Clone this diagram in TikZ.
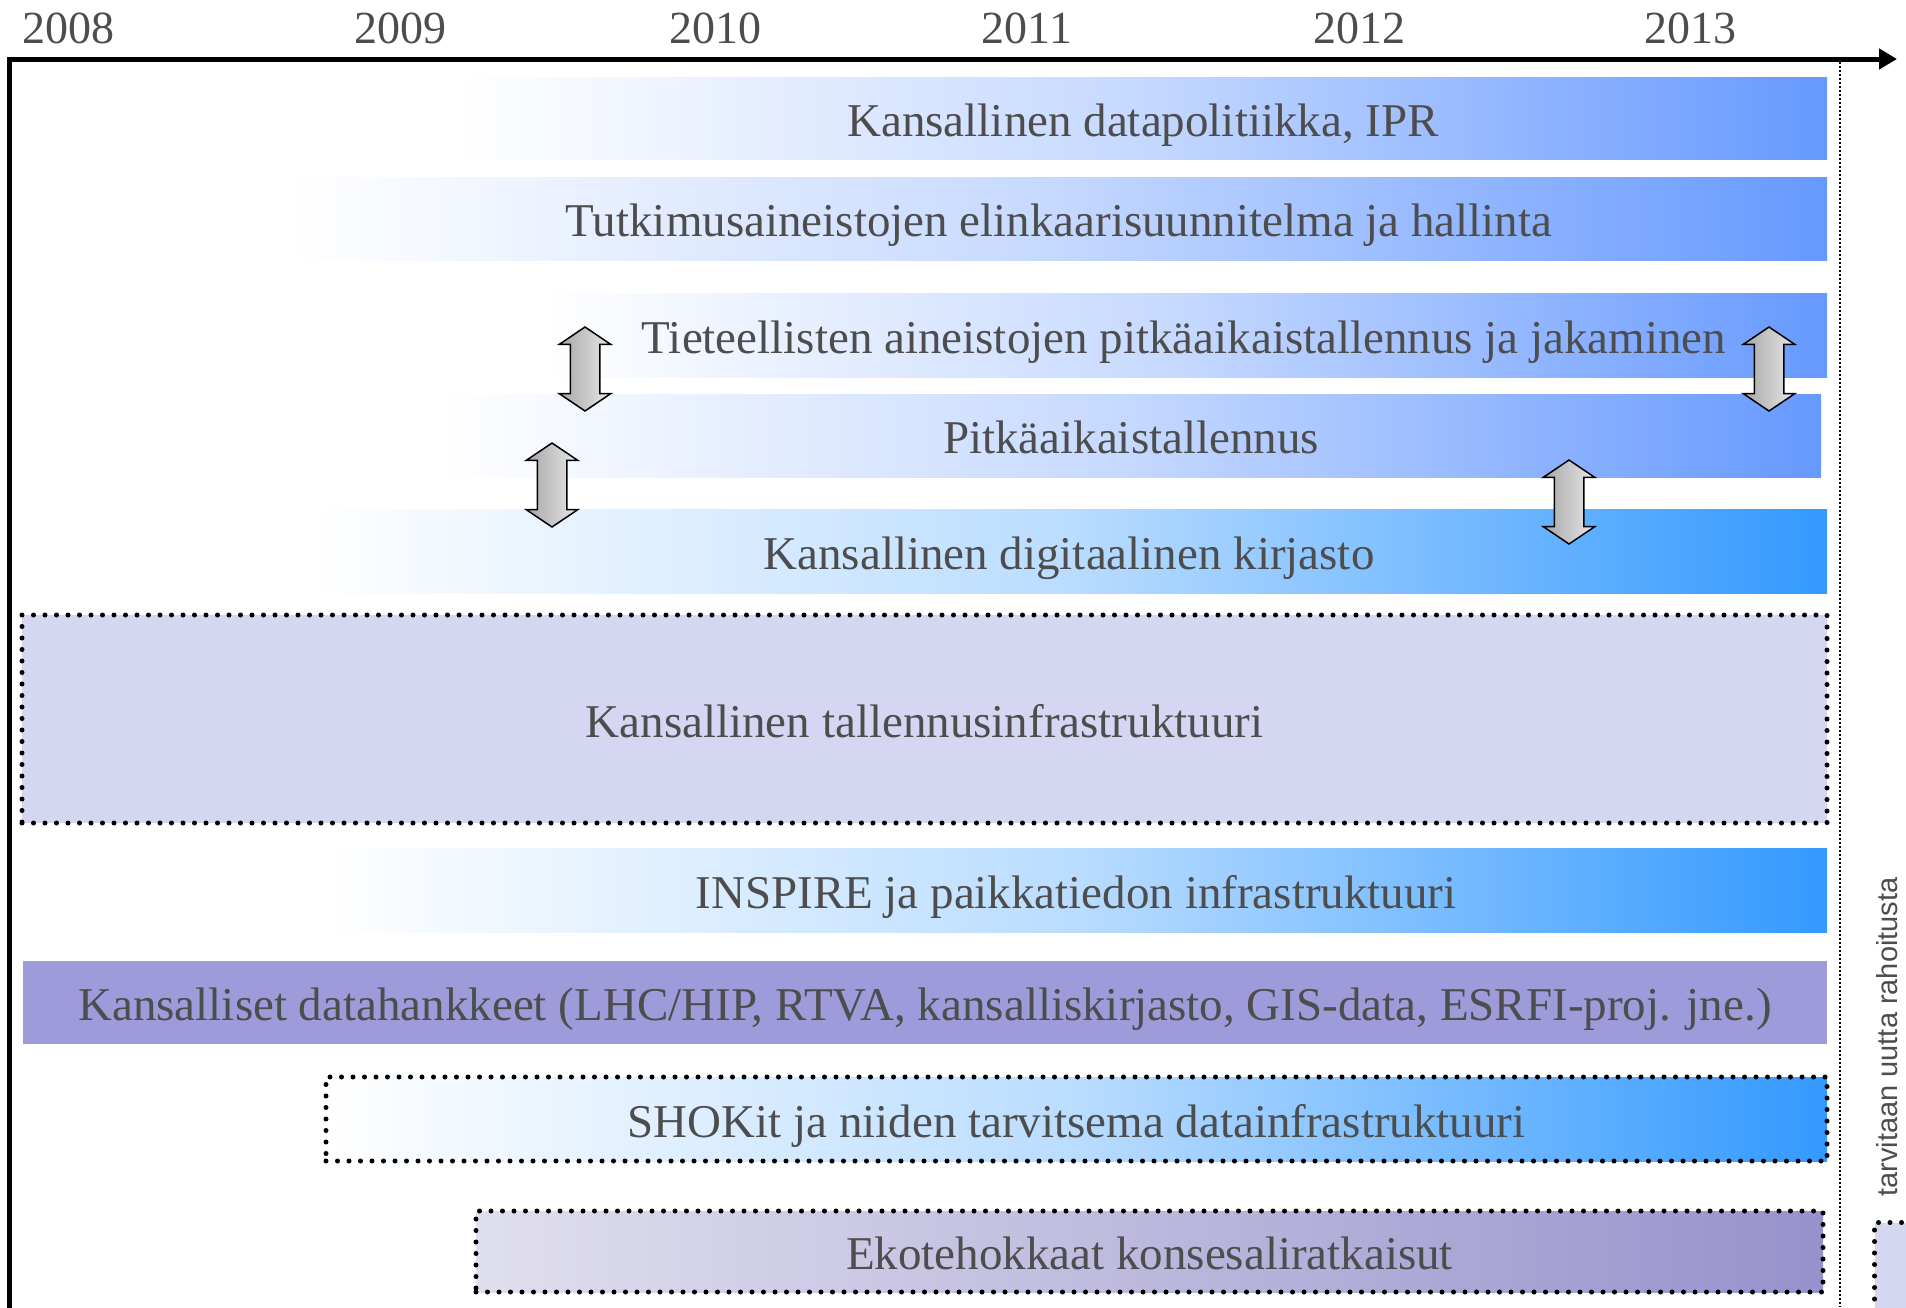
\documentclass[tikz,border=0pt]{standalone}
\usepackage{fontspec}
\setmainfont{Liberation Serif}
\newfontfamily\notefont{Liberation Sans}
\usetikzlibrary{%
  arrows.meta,%
  shapes.arrows,% wg. double arrow
  positioning%
}

\definecolor{labelgray}{HTML}{4D4D4D}
\definecolor{barblue}{HTML}{6699FF}
\definecolor{barazure}{HTML}{3399FF}
\definecolor{storelilac}{HTML}{D5D6F2}
\definecolor{projlilac}{HTML}{9E9BDB}
\definecolor{ecopale}{HTML}{E0DFEE}
\definecolor{ecolilac}{HTML}{9792CC}
\definecolor{arrowdark}{HTML}{A6A6A6}
\definecolor{arrowlight}{HTML}{E8E8E8}

\tikzset{
  planbar/.style={rectangle, inner sep=0pt, text=labelgray,
    text height=45pt, text depth=9pt},
  fadeblue/.style={planbar, left color=white, right color=barblue,
    middle color=barblue!38},
  fadeazure/.style={planbar, left color=white, right color=barazure,
    middle color=barazure!34},
  newfund/.style={draw=black, line width=5pt, line cap=round,
    dash pattern=on 0pt off 11.5pt},
  updown/.style={double arrow, shape border rotate=90, draw=black,
    line width=1.5pt, left color=arrowdark, right color=arrowlight,
    double arrow head extend=11pt, double arrow tip angle=112,
    minimum height=84pt, inner xsep=14pt, inner ysep=0pt}
}

\begin{document}
\begin{tikzpicture}[
  x=1pt, y=-1pt, font=\fontsize{47}{56}\selectfont
]
\useasboundingbox (0,0) rectangle (1906,1307);

\draw [line width=5pt, -{Triangle[length=18pt,width=20pt]}]
  (9,1310) -- (9,59) -- (1897,59);
\foreach \yr/\x in {2008/69,2009/400,2010/715,2011/1027,2012/1359,2013/1690} {
  \node[text=labelgray, font=\fontsize{46}{55}\selectfont] (yr\yr) at (\x,28) {\yr};
}
\draw [line width=2pt, dash pattern=on 2pt off 2pt] (1840,62) -- (1840,1307);

\node[fadeblue, minimum width=1368pt, minimum height=82pt] (datapol) at (1143,118)
  {Kansallinen datapolitiikka, IPR};
\node[fadeblue, minimum width=1536pt, minimum height=83pt] (lifecycle) at (1059,218.5)
  {Tutkimusaineistojen elinkaarisuunnitelma ja hallinta};
\node[fadeblue, minimum width=1286pt, minimum height=84pt] (sharing) at (1184,335)
  {Tieteellisten aineistojen pitkäaikaistallennus ja jakaminen};
\node[fadeblue, minimum width=1380pt, minimum height=83pt] (longterm) at (1131,435.5)
  {Pitkäaikaistallennus};
\node[fadeazure, minimum width=1516pt, minimum height=84pt] (library) at (1069,551)
  {Kansallinen digitaalinen kirjasto};
\node[planbar, newfund, fill=storelilac, minimum width=1805pt, minimum height=208pt]
  (storage) at (924.5,719) {Kansallinen tallennusinfrastruktuuri};
\node[fadeazure, minimum width=1502pt, minimum height=84pt] (inspire) at (1076,890)
  {INSPIRE ja paikkatiedon infrastruktuuri};
\node[planbar, fill=projlilac, minimum width=1804pt, minimum height=83pt] (projects)
  at (925,1002.5)
  {Kansalliset datahankkeet (LHC/HIP, RTVA, kansalliskirjasto, GIS-data, ESRFI-proj. jne.)};
\node[fadeazure, newfund, minimum width=1501pt, minimum height=84pt] (shok) at (1076.5,1119)
  {SHOKit ja niiden tarvitsema datainfrastruktuuri};
\node[planbar, newfund, left color=ecopale, right color=ecolilac, minimum width=1347pt,
  minimum height=81pt] (eco) at (1149.5,1251.5) {Ekotehokkaat konsesaliratkaisut};

\node[updown] (link1) at (585,369) {};
\node[updown] (link2) at (552,485) {};
\node[updown] (link3) at (1769,369) {};
\node[updown] (link4) at (1569,502) {};

\node[newfund, fill=storelilac, anchor=north west, minimum width=80pt,
  minimum height=120pt] (fundbox) at (1872,1220) {};
\node[rotate=90, text=labelgray, font=\notefont\fontsize{29}{35}\selectfont]
  (fundnote) at (1887,1037) {tarvitaan uutta rahoitusta};

\end{tikzpicture}
\end{document}
